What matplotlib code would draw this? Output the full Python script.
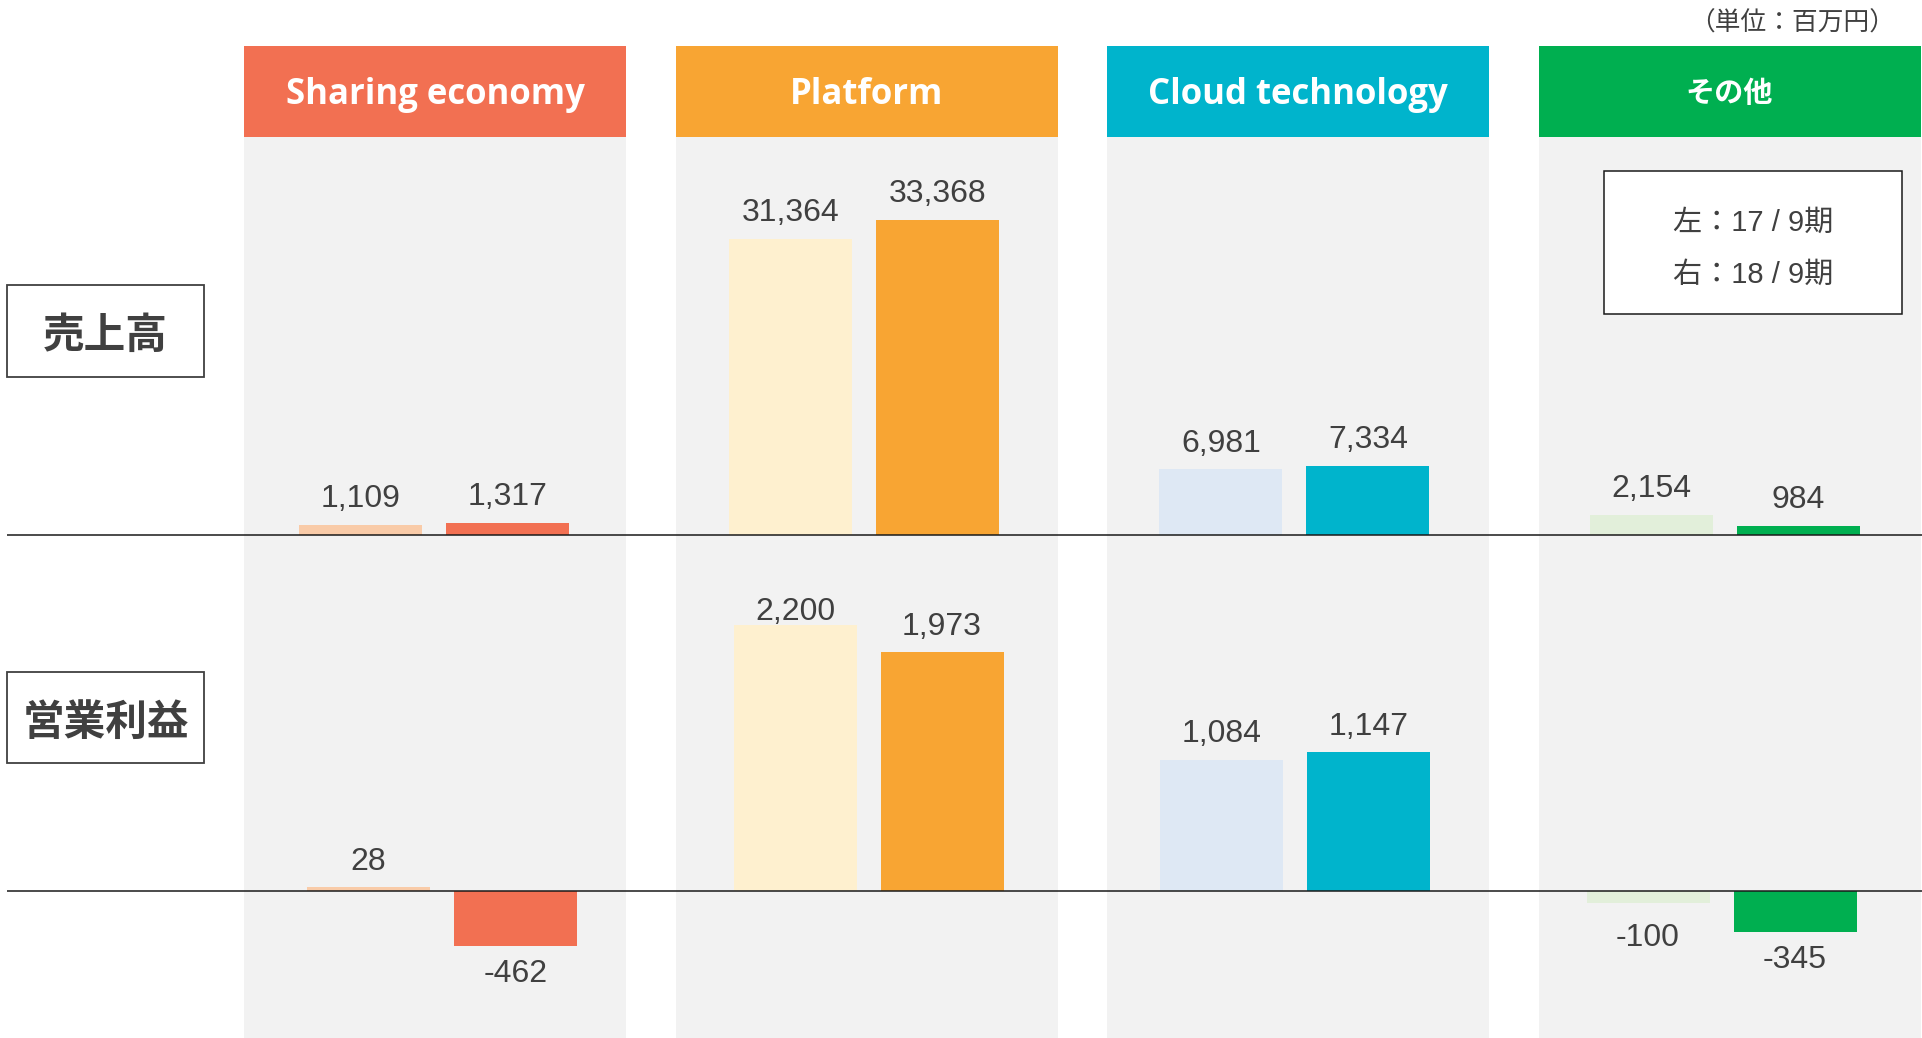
import matplotlib
matplotlib.use("Agg")
import matplotlib.pyplot as plt
from matplotlib.patches import Rectangle
import numpy as np

plt.rcParams['font.family'] = ['Liberation Sans', 'Noto Sans CJK JP']

# ---------------- data ----------------
segments = ["Sharing economy", "Platform", "Cloud technology", "その他"]
sales_prev = [1109, 31364, 6981, 2154]      # 17/9期
sales_curr = [1317, 33368, 7334, 984]       # 18/9期
profit_prev = [28, 2200, 1084, -100]
profit_curr = [-462, 1973, 1147, -345]
row_labels = ["売上高", "営業利益"]
legend_lines = ["左：17 / 9期", "右：18 / 9期"]
unit_label = "（単位：百万円）"

# ---------------- styles ----------------
header_colors = ["#F27052", "#F8A533", "#00B4CC", "#00AF50"]
light_colors = ["#F9CBA8", "#FEF0CF", "#DEE8F4", "#E2EFDA"]
dark_colors = ["#F27052", "#F8A533", "#00B4CC", "#00AF50"]
panel_color = "#F2F2F2"
text_color = "#404040"
# extra label nudges in pixels (row, series, category) -> dy (positive = down)
label_nudge = {("profit", 0, 1): 12, ("profit", 0, 3): 7}

W, H = 1922, 1038
fig = plt.figure(figsize=(W / 100, H / 100), dpi=100)
fig.patch.set_facecolor("white")

bg = fig.add_axes([0, 0, 1, 1])
bg.set_xlim(0, W)
bg.set_ylim(H, 0)
bg.axis("off")

panel_left0, panel_w, panel_pitch = 244, 382, 431.5
header_top, header_bot = 46, 137
for i, name in enumerate(segments):
    left = panel_left0 + i * panel_pitch
    bg.add_patch(Rectangle((left, header_bot), panel_w, H - header_bot,
                           facecolor=panel_color, edgecolor="none", zorder=0))
    bg.add_patch(Rectangle((left, header_top), panel_w, header_bot - header_top,
                           facecolor=header_colors[i], edgecolor="none", zorder=1))
    cx = left + panel_w / 2
    if name.isascii():
        bg.text(cx, 104, name, ha="center", va="baseline", color="white",
                fontsize=25, fontweight="bold", family=["Open Sans", "Noto Sans CJK JP"], zorder=2)
    else:
        bg.text(cx, 93, name, ha="center", va="center", color="white",
                fontsize=21, fontweight="bold", family=["Noto Sans CJK JP"], zorder=2)

# unit label
bg.text(1792, 23.5, unit_label, ha="center", va="center", color=text_color,
        fontsize=18.5, family=["Noto Sans CJK JP"])

# row label boxes
for lab, (top, bot) in zip(row_labels, [(285, 377), (672, 763)]):
    bg.add_patch(Rectangle((7, top), 197, bot - top, facecolor="white",
                           edgecolor=text_color, lw=1.3, zorder=2))
    bg.text(105.5, (top + bot) / 2 + 5, lab, ha="center", va="center", color=text_color,
            fontsize=30, fontweight="bold", family=["Noto Sans CJK JP"], zorder=3)

# legend box
bg.add_patch(Rectangle((1604, 171), 298, 143, facecolor="white",
                       edgecolor="#1a1a1a", lw=1.1, zorder=2))
for j, line in enumerate(legend_lines):
    bg.text(1753, 223 + j * 52, line, ha="center", va="center", color=text_color,
            fontsize=21, zorder=3)


def row_axes(top_px, bottom_px, zero_px, px_per_unit, center0_px, pitch_px,
             left_px=7, right_px=W):
    ax = fig.add_axes([left_px / W, 1 - bottom_px / H,
                       (right_px - left_px) / W, (bottom_px - top_px) / H])
    ax.set_ylim(-(bottom_px - zero_px) / px_per_unit, (zero_px - top_px) / px_per_unit)
    ax.set_xlim((left_px - center0_px) / pitch_px, (right_px - center0_px) / pitch_px)
    ax.axis("off")
    ax.patch.set_alpha(0)
    return ax


def draw_row(ax, row, prev, curr, pitch_px):
    x = np.arange(len(segments))
    off = 73.5 / pitch_px
    bw = 123 / pitch_px
    ax.bar(x - off, prev, width=bw, color=light_colors, zorder=2)
    ax.bar(x + off, curr, width=bw, color=dark_colors, zorder=2)
    ax.axhline(0, color="#1a1a1a", lw=1.1, zorder=3)
    for s, (xs, vals) in enumerate([(x - off, prev), (x + off, curr)]):
        for k, (xi, v) in enumerate(zip(xs, vals)):
            nudge = label_nudge.get((row, s, k), 0)
            if v >= 0:
                ax.annotate(f"{v:,}", xy=(xi, v), xytext=(0, (17.5 - nudge) * 0.72),
                            textcoords="offset points", ha="center", va="baseline",
                            fontsize=23, color=text_color, annotation_clip=False)
            else:
                ax.annotate(f"{v:,}", xy=(xi, v), xytext=(0, (-13 - nudge) * 0.72),
                            textcoords="offset points", ha="center", va="top",
                            fontsize=23, color=text_color, annotation_clip=False)


ax1 = row_axes(140, 560, 535, 315 / 33368, 434, 430.2)
draw_row(ax1, "sales", sales_prev, sales_curr, 430.2)

ax2 = row_axes(560, 1038, 890.5, 265.5 / 2200, 442, 426.5)
draw_row(ax2, "profit", profit_prev, profit_curr, 426.5)

fig.savefig("out.png", dpi=100)
